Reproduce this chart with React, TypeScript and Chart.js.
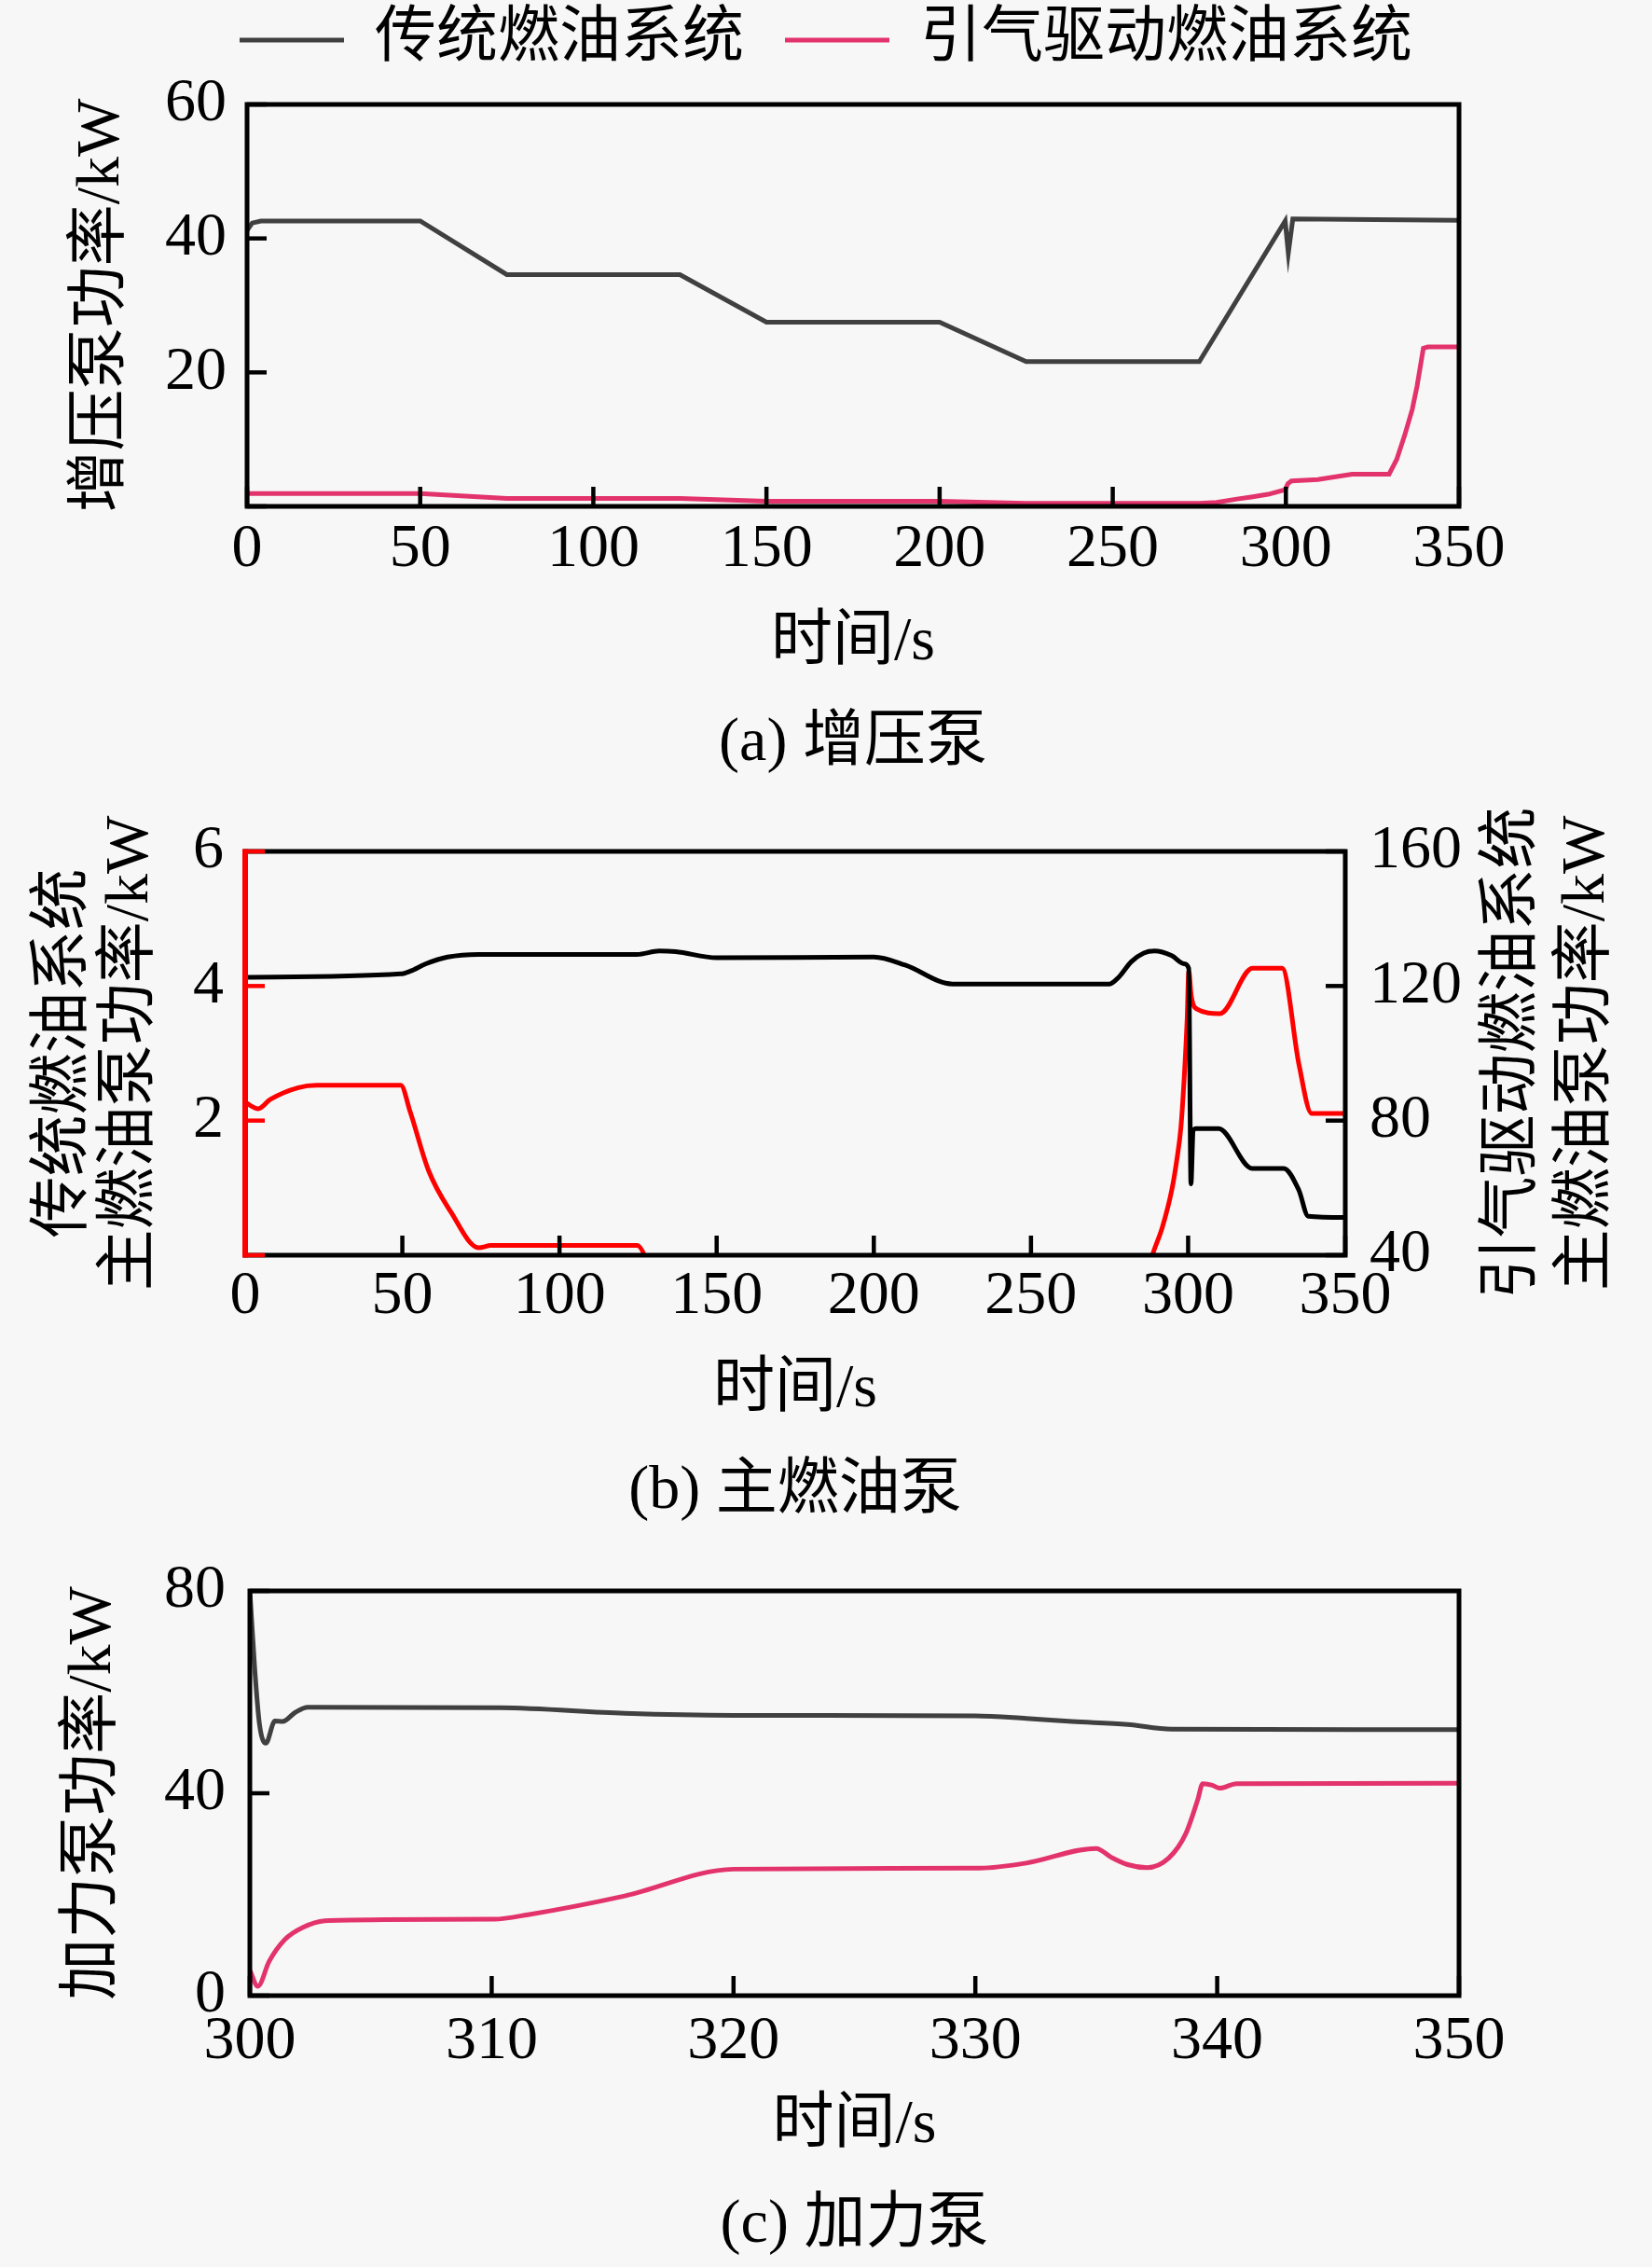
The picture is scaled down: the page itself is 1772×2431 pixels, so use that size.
import React, { useEffect, useRef } from 'react';
import { Chart, registerables } from 'chart.js';

Chart.register(...registerables);

const SERIF = "'Liberation Serif', 'Noto Sans CJK SC', serif";
const FS = 66;
const LH = FS * 1.2;
const BG = '#f7f7f7';
const GRAY = '#404040';
const PINK = '#e3336c';

const seriesNames = ['传统燃油系统', '引气驱动燃油系统'];
const xTitle = '时间/s';

// (a) 增压泵
const boostConvT = [0, 1.5, 4, 50, 75, 125, 150, 200, 225, 275, 299.8, 300.7, 302, 350];
const boostConvP = [41.2, 42.3, 42.6, 42.6, 34.6, 34.6, 27.5, 27.5, 21.6, 21.6, 42.6, 37.8, 42.9, 42.7];
const boostBleedT = [0, 50, 75, 125, 150, 200, 225, 275, 280, 285.9, 290, 294.9, 299.8, 300.6, 301.6, 309.2, 319.1, 329.8, 332, 334.3, 336.5, 337.9, 339.7, 341, 350];
const boostBleedP = [1.9, 1.9, 1.2, 1.2, 0.75, 0.75, 0.45, 0.45, 0.6, 1.1, 1.4, 1.8, 2.5, 3.4, 3.8, 4.0, 4.8, 4.8, 7.0, 10.6, 14.5, 18.0, 23.6, 23.8, 23.8];

// (b) 主燃油泵 (left axis: conventional, right axis: bleed-driven)
const mainConvT = [0, 49.5, 52.5, 57.5, 64.4, 74.3, 124.7, 131.7, 137, 150, 200, 210, 225, 275, 277.9, 281.9, 285.9, 289.3, 294.8, 298.7, 300.2, 300.9, 301.6, 302.5, 309.7, 320.4, 330.4, 335.2, 338.2, 350];
const mainConvP = [4.13, 4.18, 4.22, 4.33, 4.43, 4.47, 4.47, 4.52, 4.51, 4.42, 4.43, 4.31, 4.03, 4.03, 4.13, 4.36, 4.49, 4.52, 4.45, 4.33, 4.26, 1.06, 1.85, 1.88, 1.88, 1.29, 1.29, 0.97, 0.58, 0.56];
const mainBleedT = [0, 1.6, 4.1, 8.0, 16.9, 22.8, 49.5, 52.5, 58.4, 65.4, 74.3, 78.2, 124.7, 127.6, 130, 286, 288.3, 291.8, 294.8, 296.3, 297.7, 298.7, 299.7, 300.2, 301.0, 302.7, 310.1, 320.5, 329.9, 335.3, 339.3, 350];
const mainBleedP = [85.5, 84.5, 83.5, 86.3, 89.8, 90.5, 90.5, 82.6, 65.0, 52.9, 42.2, 42.9, 42.9, 38.6, 30, 30, 39, 48.3, 59.4, 67.7, 77.9, 91.9, 110.4, 124.4, 117, 113.2, 111.8, 125.3, 125.3, 96.5, 82.1, 82.1];

// (c) 加力泵
const forceConvT = [300, 300.2, 300.4, 300.66, 301.04, 301.36, 301.88, 302.4, 310.35, 315.5, 320, 330, 332.1, 334, 336.3, 338.1, 350];
const forceConvP = [80, 64.7, 53.6, 49.9, 54.3, 54.2, 56.0, 57.0, 56.9, 55.8, 55.4, 55.3, 54.8, 54.2, 53.6, 52.65, 52.6];
const forceBleedT = [300, 300.33, 300.8, 301.45, 302.2, 303.1, 305, 310.1, 311.5, 315.5, 320, 330.2, 332.1, 335.0, 335.6, 336.3, 337.1, 338.0, 338.7, 339.2, 339.4, 339.8, 340.1, 340.8, 350];
const forceBleedP = [5.0, 1.85, 6.8, 11.1, 13.5, 14.8, 15.0, 15.1, 16.0, 19.7, 25.0, 25.2, 26.2, 29.1, 27.4, 25.9, 25.3, 27.2, 32.0, 38.8, 41.9, 41.6, 41.0, 41.9, 42.0];

const pts = (t: number[], v: number[]) => t.map((x, i) => ({ x, y: v[i] }));
const font = (lineHeight = 1.2) => ({ family: SERIF, size: FS, lineHeight, weight: 'normal' });

// heights of the x axis block and caption so texts land where the figure has them
const bottomStack = (H: number, plotBottom: number, xTitleY: number, captionY: number) => {
  const capTop = captionY - LH / 2;
  return { axisHeight: capTop - plotBottom, axisTitlePad: capTop - LH / 2 - xTitleY, captionPad: H - capTop - LH };
};

const line = (label: string, t: number[], v: number[], color: string, yAxisID = 'y', smooth = true) => ({
  label,
  data: pts(t, v),
  borderColor: color,
  backgroundColor: color,
  borderWidth: 5,
  pointRadius: 0,
  fill: false,
  xAxisID: 'x',
  yAxisID,
  tension: 0,
  cubicInterpolationMode: smooth ? 'monotone' : 'default',
});

const xAxis = (min: number, max: number, step: number, tickPad: number, stack: any) => ({
  type: 'linear',
  position: 'bottom',
  min,
  max,
  ticks: { stepSize: step, padding: tickPad, color: '#000', font: font(), autoSkip: false, maxRotation: 0 },
  grid: { display: false, drawTicks: false },
  border: { display: false },
  title: { display: true, text: xTitle, color: '#000', font: font(), padding: { top: 0, bottom: stack.axisTitlePad } },
  afterFit: (s: any) => { s.height = stack.axisHeight; },
});

// tick lineHeight kept small: it only sets how far the end labels push the plot inward
const yAxis = (o: { min: number; max: number; step: number; width: number; tickPad: number; title: string | string[]; titlePad: number; hideZero?: boolean; titleLH?: number; position?: string }) => ({
  type: 'linear',
  position: o.position || 'left',
  min: o.min,
  max: o.max,
  ticks: { stepSize: o.step, padding: o.tickPad, color: '#000', font: font(0.8), callback: (v: number) => (o.hideZero && v === 0 ? '' : v) },
  grid: { display: false, drawTicks: false },
  border: { display: false },
  title: { display: o.title !== '', text: o.title, color: '#000', font: font(o.titleLH || 1.2), padding: { top: o.titlePad, bottom: 0 } },
  afterFit: (s: any) => { s.width = o.width; },
});

const spacer = (position: string, size: number) => ({
  type: 'linear',
  position,
  min: 0,
  max: 1,
  ticks: { display: false },
  grid: { display: false, drawTicks: false },
  border: { display: false },
  afterFit: (s: any) => { if (s.isHorizontal()) s.height = size; else s.width = size; },
});

const caption = (text: string, pad: number) => ({
  display: true, position: 'bottom', fullSize: false, text, color: '#000', font: font(), padding: { top: 0, bottom: pad },
});

// box frame with inward tick marks
const framePlugin = {
  id: 'frame',
  afterDatasetsDraw(chart: any, _args: any, opts: any) {
    const { ctx, chartArea: a } = chart;
    const L = 21;
    ctx.save();
    ctx.lineWidth = 5;
    ctx.strokeStyle = '#000';
    ctx.strokeRect(a.left, a.top, a.right - a.left, a.bottom - a.top);
    ctx.lineWidth = 4.5;
    const xs = chart.scales.x;
    xs.ticks.forEach((t: any) => {
      const p = xs.getPixelForValue(t.value);
      ctx.beginPath(); ctx.moveTo(p, a.bottom); ctx.lineTo(p, a.bottom - L); ctx.stroke();
    });
    const ys = chart.scales.y;
    ctx.strokeStyle = opts.leftColor || '#000';
    ys.ticks.forEach((t: any) => {
      const p = ys.getPixelForValue(t.value);
      ctx.beginPath(); ctx.moveTo(a.left, p); ctx.lineTo(a.left + L, p); ctx.stroke();
    });
    const y2 = chart.scales.y2;
    if (y2) {
      ctx.strokeStyle = '#000';
      y2.ticks.forEach((t: any) => {
        const p = y2.getPixelForValue(t.value);
        ctx.beginPath(); ctx.moveTo(a.right, p); ctx.lineTo(a.right - L, p); ctx.stroke();
      });
    }
    if (opts.leftColor) {
      ctx.lineWidth = 6;
      ctx.strokeStyle = opts.leftColor;
      ctx.beginPath(); ctx.moveTo(a.left, a.top - 2.5); ctx.lineTo(a.left, a.bottom + 2.5); ctx.stroke();
    }
    ctx.restore();
  },
};

// right-hand axis title, read bottom to top like the left one
const sideTitlePlugin = {
  id: 'sideTitle',
  afterDraw(chart: any, _args: any, opts: any) {
    if (!opts.lines) return;
    const { ctx, chartArea: a } = chart;
    ctx.save();
    ctx.font = `${FS}px ${SERIF}`;
    ctx.fillStyle = '#000';
    ctx.textAlign = 'center';
    ctx.textBaseline = 'middle';
    opts.lines.forEach((text: string, i: number) => {
      ctx.save();
      ctx.translate(a.right + opts.offsets[i], (a.top + a.bottom) / 2);
      ctx.rotate(-Math.PI / 2);
      ctx.fillText(text, 0, 0);
      ctx.restore();
    });
    ctx.restore();
  },
};

const legendPad = 44;
const legendTop = -34;
const stackA = bottomStack(850, 543, 690, 798);
const makeBoost = () => ({
  type: 'line',
  data: {
    datasets: [
      line(seriesNames[0], boostConvT, boostConvP, GRAY, 'y', false),
      line(seriesNames[1], boostBleedT, boostBleedP, PINK, 'y', false),
    ],
  },
  options: {
    responsive: true,
    maintainAspectRatio: false,
    animation: false,
    layout: { padding: { top: legendTop, left: 0, right: 0, bottom: 0 } },
    scales: {
      x: xAxis(0, 350, 50, 7, stackA),
      y: yAxis({ min: 0, max: 60, step: 20, width: 265, tickPad: 22, title: '增压泵功率/kW', titlePad: 70, hideZero: true }),
      xTop: spacer('top', 112 - (legendTop + FS + legendPad + 10)),
      yR: spacer('right', 207),
    },
    plugins: {
      legend: {
        display: true,
        position: 'top',
        labels: { usePointStyle: true, pointStyle: 'line', pointStyleWidth: 112, padding: legendPad, color: '#000', font: font() },
      },
      title: caption('(a) 增压泵', stackA.captionPad),
      tooltip: { enabled: false },
      frame: {},
    },
  },
  plugins: [framePlugin],
});

const stackB = bottomStack(800, 496, 641, 750);
const makeMain = () => ({
  type: 'line',
  data: {
    datasets: [
      line(seriesNames[0], mainConvT, mainConvP, '#000000', 'y'),
      line(seriesNames[1], mainBleedT, mainBleedP, '#ff0000', 'y2'),
    ],
  },
  options: {
    responsive: true,
    maintainAspectRatio: false,
    animation: false,
    layout: { padding: { top: 63, left: 0, right: 0, bottom: 0 } },
    scales: {
      x: xAxis(0, 350, 50, 5, stackB),
      y: yAxis({ min: 0, max: 6, step: 2, width: 263, tickPad: 23, title: ['传统燃油系统', '主燃油泵功率/kW'], titlePad: 34, hideZero: true, titleLH: 1.08 }),
      y2: yAxis({ min: 40, max: 160, step: 40, width: 329, tickPad: 26, title: '', titlePad: 0, position: 'right' }),
    },
    plugins: {
      legend: { display: false },
      title: caption('(b) 主燃油泵', stackB.captionPad),
      tooltip: { enabled: false },
      frame: { leftColor: '#ff0000' },
      sideTitle: { lines: ['引气驱动燃油系统', '主燃油泵功率/kW'], offsets: [181, 260] },
    },
  },
  plugins: [framePlugin, sideTitlePlugin],
});

const stackC = bottomStack(781, 490, 630, 737);
const makeForce = () => ({
  type: 'line',
  data: {
    datasets: [
      line(seriesNames[0], forceConvT, forceConvP, GRAY, 'y'),
      line(seriesNames[1], forceBleedT, forceBleedP, PINK, 'y'),
    ],
  },
  options: {
    responsive: true,
    maintainAspectRatio: false,
    animation: false,
    layout: { padding: { top: 56, left: 0, right: 207, bottom: 0 } },
    scales: {
      x: xAxis(300, 350, 10, 10, stackC),
      y: yAxis({ min: 0, max: 80, step: 40, width: 268, tickPad: 26, title: '加力泵功率/kW', titlePad: 61 }),
    },
    plugins: {
      legend: { display: false },
      title: caption('(c) 加力泵', stackC.captionPad),
      tooltip: { enabled: false },
      frame: {},
    },
  },
  plugins: [framePlugin],
});

const ChartBox: React.FC<{ top: number; height: number; make: () => any }> = ({ top, height, make }) => {
  const ref = useRef<HTMLCanvasElement>(null);
  useEffect(() => {
    const ctx = ref.current?.getContext('2d');
    if (!ctx) return;
    const chart = new Chart(ctx, make());
    return () => chart.destroy();
  }, [make]);
  return (
    <div style={{ position: 'absolute', left: 0, top, width: 1772, height }}>
      <canvas ref={ref}></canvas>
    </div>
  );
};

const App: React.FC = () => (
  <div style={{ position: 'absolute', left: 0, top: 0, width: 1772, height: 2431, background: BG, overflow: 'hidden' }}>
    <ChartBox top={0} height={850} make={makeBoost} />
    <ChartBox top={850} height={800} make={makeMain} />
    <ChartBox top={1650} height={781} make={makeForce} />
  </div>
);

export default App;
